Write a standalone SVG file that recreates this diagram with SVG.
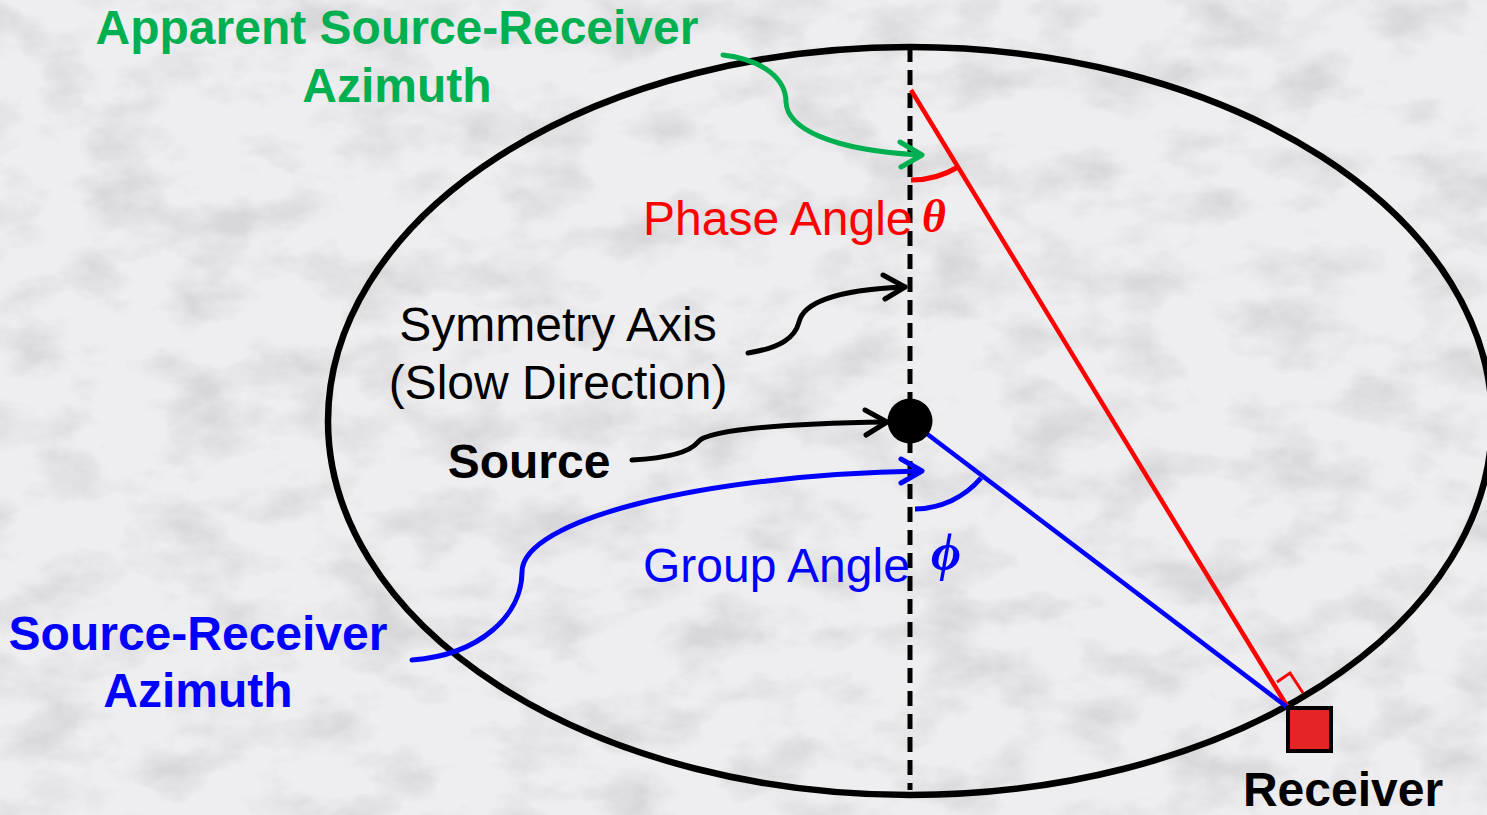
<svg xmlns="http://www.w3.org/2000/svg" width="1487" height="815" viewBox="0 0 1487 815">
<style>
.t{font-family:"Liberation Sans",Arial,sans-serif;font-size:48px}
.b{font-weight:bold}
.g{fill:#00b050}
.bl{fill:#0000ff}
.r{fill:#ff0000}
.k{fill:#000}
.gr{font-family:"Liberation Serif","Times New Roman",serif;font-size:46px;font-weight:bold;font-style:italic}
.conn{fill:none;stroke-width:5;stroke-linecap:round;stroke-linejoin:round}
</style>
<defs>
<filter id="marble" x="0" y="0" width="100%" height="100%">
<feTurbulence type="fractalNoise" baseFrequency="0.012 0.02" numOctaves="5" seed="7" result="n"/>
<feColorMatrix in="n" type="matrix" values="0 0 0 0 0.5  0 0 0 0 0.5  0 0 0 0 0.52  0 0 0 -2.6 1.45" result="v"/>
<feComposite in="v" in2="SourceGraphic" operator="in"/>
</filter>
</defs>
<rect width="1487" height="815" fill="#eeeef0"/>
<rect width="1487" height="815" fill="#eeeef0" filter="url(#marble)" opacity="0.45"/>

<g id="ellipse">
<ellipse cx="910" cy="421" rx="582" ry="374" fill="none" stroke="#000" stroke-width="6.5"/>
</g>
<g id="symmetry-axis">
<line x1="910" y1="47" x2="910" y2="790" stroke="#000" stroke-width="5" stroke-dasharray="15 8"/>
</g>
<g id="phase-ray">
<line x1="911" y1="90" x2="1287" y2="706" stroke="#ff0000" stroke-width="4.5"/>
<path d="M911,180 A90,90 0 0 0 958,167" fill="none" stroke="#ff0000" stroke-width="5"/>
<polyline points="1277,682 1290,673 1303,693" fill="none" stroke="#ff0000" stroke-width="3"/>
</g>
<g id="group-ray">
<line x1="910" y1="421" x2="1287" y2="707" stroke="#0000ff" stroke-width="4.5"/>
<path d="M915,509 A88,88 0 0 0 981,478" fill="none" stroke="#0000ff" stroke-width="5"/>
</g>
<g id="source">
<circle cx="910" cy="421" r="22.5" fill="#000"/>
</g>
<g id="receiver">
<rect x="1288" y="708" width="43" height="43" fill="#e52424" stroke="#000" stroke-width="4"/>
<text class="t b k" x="1343" y="806" text-anchor="middle">Receiver</text>
</g>

<g id="connectors">
<path class="conn" stroke="#00b050" d="M723,55 C765,60 786,80 786,102 C787,128 830,150 920,155"/>
<polyline class="conn" stroke="#00b050" points="900,142 922,155 901,167"/>
<path class="conn" stroke="#000" d="M748,353 C780,348 795,338 799,322 C803,305 830,290 905,287"/>
<polyline class="conn" stroke="#000" points="883,275 905,287 885,299"/>
<path class="conn" stroke="#000" d="M632,460 C670,458 690,452 698,442 C705,432 760,424 887,422"/>
<polyline class="conn" stroke="#000" points="865,410 887,422 866,435"/>
<path class="conn" stroke="#0000ff" d="M412,660 C480,655 522,615 522,572 C522,520 700,475 920,471"/>
<polyline class="conn" stroke="#0000ff" points="901,459 922,471 901,483"/>
</g>

<g id="label-apparent">
<text class="t b g" x="397" y="44" text-anchor="middle">Apparent Source-Receiver</text>
<text class="t b g" x="397" y="102" text-anchor="middle">Azimuth</text>
</g>
<g id="label-phase">
<text class="t r" x="643" y="235">Phase Angle</text>
<text class="r gr" x="922" y="232">θ</text>
</g>
<g id="label-symmetry">
<text class="t k" x="558" y="341" text-anchor="middle">Symmetry Axis</text>
<text class="t k" x="558" y="399" text-anchor="middle">(Slow Direction)</text>
</g>
<g id="label-source">
<text class="t b k" x="529" y="478" text-anchor="middle">Source</text>
</g>
<g id="label-group">
<text class="t bl" x="643" y="582">Group Angle</text>
<text class="bl gr" x="931" y="570" style="font-size:52px">ϕ</text>
</g>
<g id="label-sr">
<text class="t b bl" x="198" y="650" text-anchor="middle">Source-Receiver</text>
<text class="t b bl" x="198" y="707" text-anchor="middle">Azimuth</text>
</g>
</svg>
